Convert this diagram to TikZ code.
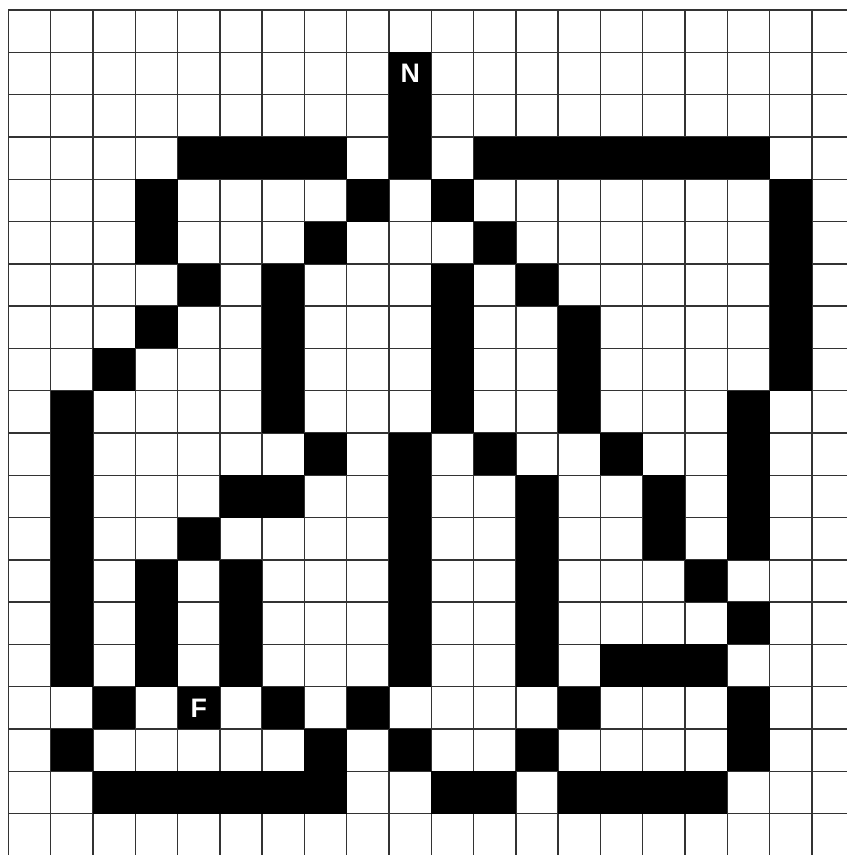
\documentclass[tikz,border=0pt]{standalone}
\usepackage{fontspec}
\setsansfont{Liberation Sans}

\begin{document}
\begin{tikzpicture}[
        x=1cm, y=-1cm,
        gridline/.style={draw=black!80, line width=0.9pt},
        wall/.style={fill=black},
        letter/.style={text=white, font=\sffamily\bfseries\fontsize{18}{20}\selectfont}
    ]
        \useasboundingbox[fill=white] (-0.2,-0.24) rectangle (19.82,19.98);

        % Grid
        \foreach \x in {0,...,19}
            \draw[gridline] (\x,0) -- (\x,19.98);
        \foreach \y in {0,...,19}
            \draw[gridline] (0,\y) -- (19.82,\y);

        % Walls, row by row
        \foreach \r/\cols in {1/{9}, 2/{9}, 3/{4,5,6,7,9,11,12,13,14,15,16,17},
                4/{3,8,10,18}, 5/{3,7,11,18}, 6/{4,6,10,12,18}, 7/{3,6,10,13,18},
                8/{2,6,10,13,18}, 9/{1,6,10,13,17}, 10/{1,7,9,11,14,17},
                11/{1,5,6,9,12,15,17}, 12/{1,4,9,12,15,17}, 13/{1,3,5,9,12,16},
                14/{1,3,5,9,12,17}, 15/{1,3,5,9,12,14,15,16}, 16/{2,4,6,8,13,17},
                17/{1,7,9,12,17}, 18/{2,3,4,5,6,7,10,11,13,14,15,16}}
            \foreach \c in \cols
                \fill[wall] (\c,\r) rectangle ++(1,1);

        % Labels
        \node[letter] (north) at (9.5,1.5) {N};
        \node[letter] (finish) at (4.5,16.5) {F};
    \end{tikzpicture}
\end{document}
